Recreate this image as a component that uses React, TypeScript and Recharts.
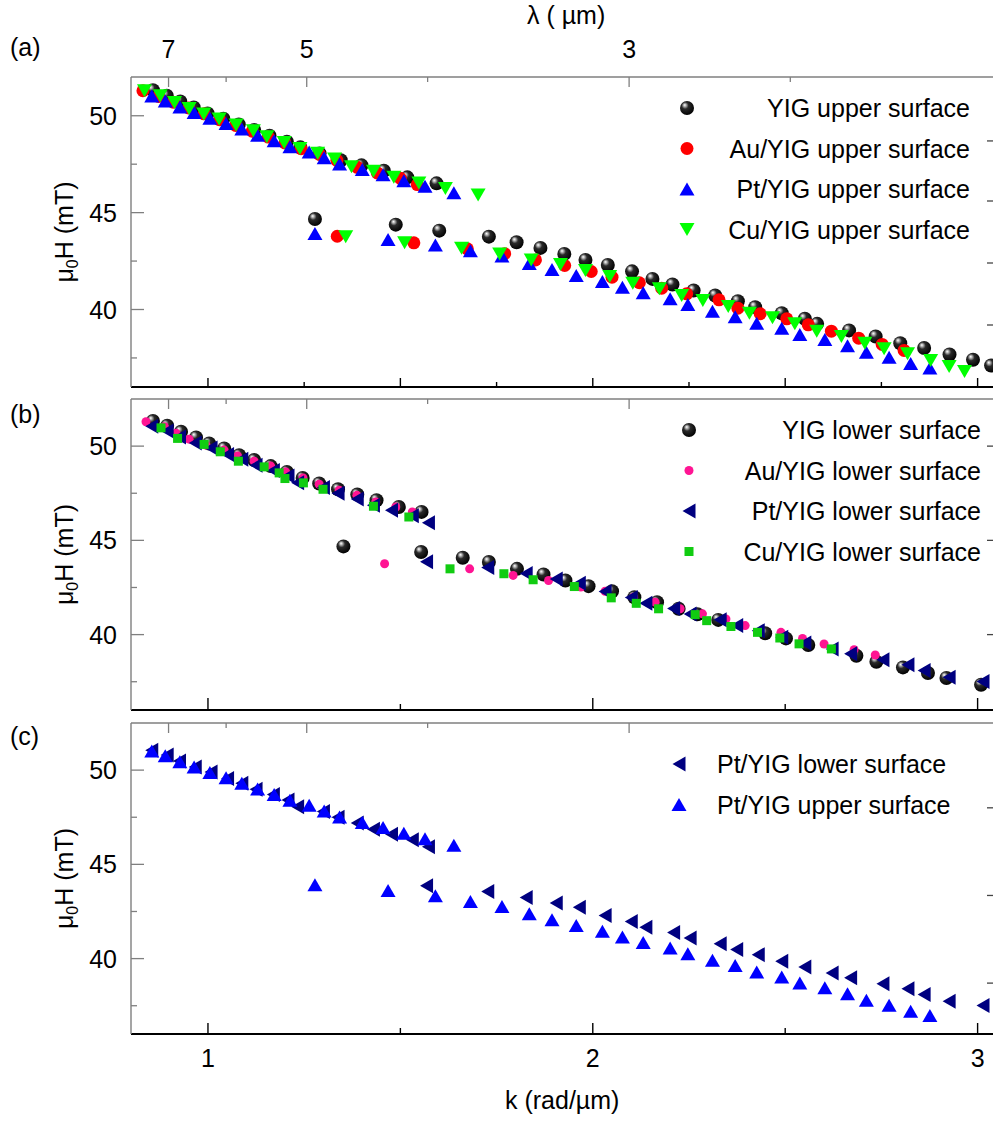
import { ScatterChart, Scatter, XAxis, YAxis } from "recharts";

const FONT = "'Liberation Sans', Arial, Helvetica, sans-serif";

// (a) upper surface — k in rad/µm, μ0H in mT
const yigUpperK = [0.857, 0.893, 0.928, 0.963, 0.999, 1.04, 1.08, 1.12, 1.16, 1.205, 1.24, 1.29, 1.345, 1.399, 1.457, 1.518, 1.594,
  1.278, 1.488, 1.601, 1.73, 1.802, 1.864, 1.926, 1.981, 2.039, 2.102, 2.155, 2.207, 2.262, 2.318, 2.377, 2.422, 2.491, 2.551, 2.583, 2.666, 2.735, 2.799, 2.861, 2.927, 2.988, 3.035];
const yigUpperH = [51.32, 51.03, 50.74, 50.43, 50.12, 49.85, 49.55, 49.27, 48.97, 48.66, 48.37, 48.05, 47.7, 47.44, 47.16, 46.82, 46.51,
  44.67, 44.38, 44.07, 43.76, 43.47, 43.18, 42.87, 42.56, 42.3, 41.97, 41.58, 41.29, 40.98, 40.72, 40.43, 40.12, 39.81, 39.52, 39.26, 38.92, 38.61, 38.26, 38.01, 37.68, 37.41, 37.11];

const auUpperK = [0.831, 0.872, 0.91, 0.95, 0.99, 1.03, 1.072, 1.115, 1.157, 1.2, 1.242, 1.29, 1.335, 1.388, 1.44, 1.5, 1.544,
  1.336, 1.535, 1.674, 1.771, 1.851, 1.927, 1.996, 2.05, 2.121, 2.179, 2.244, 2.328, 2.377, 2.435, 2.504, 2.56, 2.62, 2.691, 2.752, 2.809];
const auUpperH = [51.29, 51.0, 50.7, 50.4, 50.1, 49.8, 49.5, 49.2, 48.9, 48.6, 48.3, 48.0, 47.7, 47.34, 47.05, 46.77, 46.45,
  43.78, 43.44, 43.13, 42.88, 42.56, 42.27, 41.96, 41.67, 41.38, 41.1, 40.81, 40.5, 40.07, 39.78, 39.52, 39.21, 38.88, 38.52, 38.2, 37.89];

const ptUpperK = [0.854, 0.889, 0.927, 0.964, 1.005, 1.047, 1.088, 1.129, 1.172, 1.213, 1.263, 1.302, 1.342, 1.401, 1.455, 1.509, 1.564, 1.639,
  1.278, 1.468, 1.591, 1.682, 1.764, 1.835, 1.894, 1.957, 2.025, 2.077, 2.131, 2.201, 2.247, 2.311, 2.37, 2.426, 2.491, 2.538, 2.603, 2.662, 2.711, 2.77, 2.826, 2.876];
const ptUpperH = [51.02, 50.76, 50.45, 50.17, 49.87, 49.6, 49.31, 49.0, 48.71, 48.4, 48.13, 47.83, 47.51, 47.22, 46.95, 46.65, 46.36, 46.02,
  43.92, 43.61, 43.33, 43.03, 42.76, 42.38, 42.06, 41.75, 41.45, 41.15, 40.86, 40.56, 40.26, 39.91, 39.63, 39.29, 39.03, 38.71, 38.45, 38.13, 37.79, 37.53, 37.21, 36.98];

const cuUpperK = [0.835, 0.876, 0.913, 0.951, 0.989, 1.029, 1.073, 1.118, 1.153, 1.198, 1.239, 1.285, 1.329, 1.373, 1.43, 1.483, 1.548, 1.617, 1.702,
  1.358, 1.511, 1.659, 1.758, 1.84, 1.916, 1.981, 2.044, 2.104, 2.173, 2.231, 2.286, 2.352, 2.407, 2.467, 2.525, 2.582, 2.646, 2.707, 2.757, 2.818, 2.878, 2.926, 2.966];
const cuUpperH = [51.29, 51.03, 50.69, 50.38, 50.09, 49.83, 49.52, 49.23, 48.92, 48.62, 48.31, 48.06, 47.77, 47.37, 47.13, 46.82, 46.53, 46.25, 45.91,
  43.76, 43.44, 43.16, 42.87, 42.56, 42.32, 42.01, 41.7, 41.36, 41.07, 40.72, 40.46, 40.15, 39.81, 39.57, 39.26, 38.88, 38.61, 38.26, 37.97, 37.72, 37.37, 37.06, 36.8];

// (b) lower surface
const yigLowerK = [0.857, 0.894, 0.93, 0.969, 1.003, 1.042, 1.081, 1.12, 1.163, 1.205, 1.246, 1.289, 1.338, 1.388, 1.438, 1.496, 1.555,
  1.352, 1.554, 1.662, 1.73, 1.803, 1.872, 1.929, 1.989, 2.05, 2.108, 2.167, 2.223, 2.272, 2.326, 2.448, 2.502, 2.56, 2.685, 2.737, 2.806, 2.871, 2.919, 3.009];
const yigLowerH = [51.33, 51.08, 50.76, 50.46, 50.14, 49.88, 49.52, 49.26, 48.94, 48.63, 48.31, 48.02, 47.71, 47.43, 47.13, 46.77, 46.51,
  44.68, 44.38, 44.08, 43.85, 43.49, 43.19, 42.87, 42.57, 42.3, 41.98, 41.72, 41.37, 41.08, 40.78, 40.07, 39.8, 39.45, 38.88, 38.56, 38.26, 37.96, 37.7, 37.34];

const auLowerK = [0.839, 0.887, 0.917, 0.951, 0.995, 1.042, 1.077, 1.12, 1.163, 1.202, 1.247, 1.289, 1.341, 1.387, 1.436, 1.488, 1.531,
  1.459, 1.68, 1.793, 1.885, 1.969, 2.032, 2.106, 2.162, 2.227, 2.285, 2.346, 2.396, 2.489, 2.545, 2.601, 2.679, 2.734];
const auLowerH = [51.29, 51.03, 50.68, 50.37, 50.05, 49.79, 49.48, 49.2, 48.94, 48.63, 48.31, 47.98, 47.66, 47.39, 47.04, 46.77, 46.51,
  43.76, 43.49, 43.14, 42.87, 42.52, 42.3, 41.98, 41.72, 41.37, 41.1, 40.83, 40.48, 40.12, 39.8, 39.5, 39.2, 38.92];

const ptLowerK = [0.854, 0.894, 0.926, 0.967, 1.008, 1.051, 1.088, 1.125, 1.17, 1.208, 1.233, 1.3, 1.338, 1.388, 1.43, 1.477, 1.531, 1.573,
  1.568, 1.727, 1.827, 1.905, 1.965, 2.032, 2.1, 2.138, 2.21, 2.253, 2.331, 2.374, 2.43, 2.491, 2.551, 2.622, 2.67, 2.754, 2.819, 2.861, 2.926, 3.014];
const ptLowerH = [51.06, 50.8, 50.48, 50.17, 49.9, 49.56, 49.3, 48.98, 48.71, 48.41, 48.06, 47.8, 47.5, 47.2, 46.86, 46.6, 46.3, 45.94,
  43.86, 43.56, 43.24, 42.95, 42.72, 42.29, 41.97, 41.67, 41.39, 41.09, 40.79, 40.48, 40.21, 39.86, 39.56, 39.24, 38.98, 38.66, 38.4, 38.1, 37.74, 37.51];

const cuLowerK = [0.878, 0.921, 0.99, 1.032, 1.079, 1.146, 1.185, 1.2, 1.248, 1.299, 1.43, 1.522,
  1.629, 1.769, 1.845, 1.952, 2.048, 2.113, 2.171, 2.266, 2.296, 2.359, 2.428, 2.486, 2.536, 2.62];
const cuLowerH = [50.97, 50.41, 50.09, 49.7, 49.2, 48.9, 48.58, 48.28, 48.05, 47.71, 46.81, 46.24,
  43.49, 43.23, 42.91, 42.55, 41.95, 41.66, 41.37, 41.06, 40.74, 40.43, 40.12, 39.82, 39.51, 39.24];

// axis ticks
const lambdaMajor = [7, 5, 3];
const lambdaMinorA = [6, 4, 2.5];
const lambdaMinorBC = [6, 4];
const hTicks = [37.5, 40, 42.5, 45, 47.5, 50];
const kTicksA = [1, 1.25, 1.5, 1.75, 2, 2.25, 2.5, 2.75, 3];
const kTicksBC = [1, 1.5, 2, 2.5, 3];
const rightTicksA = [48.7, 45.6, 42.4, 39.2];
const rightTicksB = [50, 45, 40];
const rightTicksC = [48, 43.35, 38.7];

const K_DOMAIN: [number, number] = [0.8, 3.04];

type Pt = { k: number; h: number };
const toPoints = (k: number[], h: number[]): Pt[] => k.map((v, i) => ({ k: v, h: h[i] }));

// marker shapes
const sphere = (p: any) => <circle cx={p.cx} cy={p.cy} r={7} fill="url(#yigSphere)" />;
const dot = (color: string, r: number) => (p: any) => <circle cx={p.cx} cy={p.cy} r={r} fill={color} />;
const triUp = (color: string) => (p: any) => (
  <polygon points={`${p.cx - 7.5},${p.cy + 6.5} ${p.cx + 7.5},${p.cy + 6.5} ${p.cx},${p.cy - 6.5}`} fill={color} />
);
const triDown = (color: string) => (p: any) => (
  <polygon points={`${p.cx - 7.5},${p.cy - 6.5} ${p.cx + 7.5},${p.cy - 6.5} ${p.cx},${p.cy + 6.5}`} fill={color} />
);
const triLeft = (color: string) => (p: any) => (
  <polygon points={`${p.cx + 6.5},${p.cy - 7.5} ${p.cx + 6.5},${p.cy + 7.5} ${p.cx - 6.5},${p.cy}`} fill={color} />
);
const square = (color: string) => (p: any) => (
  <rect x={p.cx - 4.5} y={p.cy - 4.5} width={9} height={9} fill={color} />
);

const BLUE = "#0000ff";
const NAVY = "#000080";
const RED = "#ff0000";
const GREEN = "#00ff00";
const PINK = "#ff1493";
const CU_LOWER = "#11cc11";
const GRAY = "#7f7f7f";

type Series = { name: string; data: Pt[]; shape: (p: any) => JSX.Element };

const seriesA: Series[] = [
  { name: "YIG upper surface", data: toPoints(yigUpperK, yigUpperH), shape: sphere },
  { name: "Au/YIG upper surface", data: toPoints(auUpperK, auUpperH), shape: dot(RED, 6.5) },
  { name: "Pt/YIG upper surface", data: toPoints(ptUpperK, ptUpperH), shape: triUp(BLUE) },
  { name: "Cu/YIG upper surface", data: toPoints(cuUpperK, cuUpperH), shape: triDown(GREEN) },
];
const seriesB: Series[] = [
  { name: "YIG lower surface", data: toPoints(yigLowerK, yigLowerH), shape: sphere },
  { name: "Au/YIG lower surface", data: toPoints(auLowerK, auLowerH), shape: dot(PINK, 4.5) },
  { name: "Pt/YIG lower surface", data: toPoints(ptLowerK, ptLowerH), shape: triLeft(NAVY) },
  { name: "Cu/YIG lower surface", data: toPoints(cuLowerK, cuLowerH), shape: square(CU_LOWER) },
];
const seriesC: Series[] = [
  { name: "Pt/YIG lower surface", data: toPoints(ptLowerK, ptLowerH), shape: triLeft(NAVY) },
  { name: "Pt/YIG upper surface", data: toPoints(ptUpperK, ptUpperH), shape: triUp(BLUE) },
];

const textStyle = { fontSize: 25, fontFamily: FONT, fill: "#000" };

// tick renderers: ticks point into the plot, labels sit outside
const leftTick = (p: any) => {
  const v = p.payload.value;
  const major = v % 5 === 0;
  return (
    <g>
      <line x1={p.x} x2={p.x + (major ? 13 : 6)} y1={p.y} y2={p.y} stroke={GRAY} strokeWidth={1.3} />
      {major && (
        <text x={p.x - 14} y={p.y + 9} textAnchor="end" {...textStyle}>
          {v}
        </text>
      )}
    </g>
  );
};

const bottomTick = (step: number, majorLen: number, minorLen: number, labels: boolean) => (p: any) => {
  const v = p.payload.value;
  const major = Math.abs(v / step - Math.round(v / step)) < 1e-6;
  return (
    <g>
      <line x1={p.x} x2={p.x} y1={p.y} y2={p.y - (major ? majorLen : minorLen)} stroke="#000" strokeWidth={1.4} />
      {labels && Number.isInteger(v) && (
        <text x={p.x} y={p.y + 33} textAnchor="middle" {...textStyle}>
          {v}
        </text>
      )}
    </g>
  );
};

const topTick = (labels: boolean) => (p: any) => {
  const lam = Math.round(((2 * Math.PI) / p.payload.value) * 10) / 10;
  const major = lambdaMajor.includes(lam);
  return (
    <g>
      <line x1={p.x} x2={p.x} y1={p.y} y2={p.y + (major ? 10 : 5)} stroke={GRAY} strokeWidth={1.3} />
      {labels && major && (
        <text x={p.x} y={p.y - 19} textAnchor="middle" {...textStyle}>
          {lam}
        </text>
      )}
    </g>
  );
};

const rightTick = (p: any) => (
  <line x1={p.x} x2={p.x - 6} y1={p.y} y2={p.y} stroke="#444" strokeWidth={1.3} />
);

type PanelProps = {
  height: number;
  top: number;
  bottom: number;
  yDomain: [number, number];
  series: Series[];
  kTicks: number[];
  kStep: number;
  kMajorLen: number;
  kMinorLen: number;
  kLabels: boolean;
  lambdaTicks: number[];
  lambdaLabels: boolean;
  rightTicks: number[];
};

// Axes are 1px thick so they still render; margins are reduced by that pixel.
function Panel(props: PanelProps) {
  const { height, top, bottom, yDomain, series, kTicks, kStep, kMajorLen, kMinorLen, kLabels, lambdaTicks, lambdaLabels, rightTicks } = props;
  return (
    <ScatterChart width={994} height={height} margin={{ top: top - 1, right: 0, bottom: bottom - 1, left: 130 }}>
      <XAxis
        xAxisId="b"
        dataKey="k"
        type="number"
        domain={K_DOMAIN}
        allowDataOverflow
        ticks={kTicks}
        interval={0}
        height={1}
        tickSize={0}
        tickMargin={0}
        tickLine={false}
        axisLine={{ stroke: "#000", strokeWidth: 2 }}
        tick={bottomTick(kStep, kMajorLen, kMinorLen, kLabels)}
      />
      <XAxis
        xAxisId="t"
        orientation="top"
        dataKey="k"
        type="number"
        domain={K_DOMAIN}
        allowDataOverflow
        ticks={lambdaTicks.map((l) => (2 * Math.PI) / l)}
        interval={0}
        height={1}
        tickSize={0}
        tickMargin={0}
        tickLine={false}
        axisLine={{ stroke: GRAY, strokeWidth: 1.4 }}
        tick={topTick(lambdaLabels)}
      />
      <YAxis
        yAxisId="l"
        dataKey="h"
        type="number"
        domain={yDomain}
        allowDataOverflow
        ticks={hTicks}
        interval={0}
        width={1}
        tickSize={0}
        tickMargin={0}
        tickLine={false}
        axisLine={{ stroke: GRAY, strokeWidth: 1.4 }}
        tick={leftTick}
      />
      <YAxis
        yAxisId="r"
        orientation="right"
        dataKey="h"
        type="number"
        domain={yDomain}
        allowDataOverflow
        ticks={rightTicks}
        interval={0}
        width={1}
        tickSize={0}
        tickMargin={0}
        tickLine={false}
        axisLine={false}
        tick={rightTick}
      />
      {series.map((s) => (
        <Scatter
          key={s.name}
          name={s.name}
          data={s.data}
          xAxisId="b"
          yAxisId="l"
          shape={s.shape}
          isAnimationActive={false}
        />
      ))}
    </ScatterChart>
  );
}

function LegendRows({ series, x, y0, textX, anchor }: { series: Series[]; x: number; y0: number; textX: number; anchor: "start" | "end" }) {
  return (
    <g>
      {series.map((s, i) => {
        const cy = y0 + i * 40.5;
        return (
          <g key={s.name}>
            {s.shape({ cx: x, cy })}
            <text x={textX} y={cy + 9} textAnchor={anchor} {...textStyle}>
              {s.name}
            </text>
          </g>
        );
      })}
    </g>
  );
}

function AxisTitle({ cy }: { cy: number }) {
  return (
    <text transform={`translate(73, ${cy}) rotate(-90)`} textAnchor="middle" {...textStyle}>
      μ<tspan dy={5} fontSize={16}>0</tspan>
      <tspan dy={-5}>H (mT)</tspan>
    </text>
  );
}

export default function App() {
  return (
    <div style={{ position: "absolute", left: 0, top: 0, width: 993, height: 1121, background: "#fff", overflow: "hidden" }}>
      <svg width={0} height={0} style={{ position: "absolute" }}>
        <defs>
          <radialGradient id="yigSphere" cx="0.42" cy="0.4" r="0.62" fx="0.33" fy="0.28">
            <stop offset="0" stopColor="#ffffff" />
            <stop offset="0.14" stopColor="#bdbdbd" />
            <stop offset="0.4" stopColor="#2a2a2a" />
            <stop offset="1" stopColor="#000000" />
          </radialGradient>
        </defs>
      </svg>

      <div style={{ position: "absolute", left: 0, top: 0 }}>
        <Panel
          height={393}
          top={77}
          bottom={6}
          yDomain={[36, 52]}
          series={seriesA}
          kTicks={kTicksA}
          kStep={0.5}
          kMajorLen={9}
          kMinorLen={5}
          kLabels={false}
          lambdaTicks={[...lambdaMajor, ...lambdaMinorA]}
          lambdaLabels={true}
          rightTicks={rightTicksA}
        />
      </div>
      <div style={{ position: "absolute", left: 0, top: 393 }}>
        <Panel
          height={324}
          top={6}
          bottom={7}
          yDomain={[36, 52.5]}
          series={seriesB}
          kTicks={kTicksBC}
          kStep={1}
          kMajorLen={12}
          kMinorLen={6}
          kLabels={false}
          lambdaTicks={[...lambdaMajor, ...lambdaMinorBC]}
          lambdaLabels={false}
          rightTicks={rightTicksB}
        />
      </div>
      <div style={{ position: "absolute", left: 0, top: 717 }}>
        <Panel
          height={404}
          top={6}
          bottom={87}
          yDomain={[36, 52.5]}
          series={seriesC}
          kTicks={kTicksBC}
          kStep={1}
          kMajorLen={11}
          kMinorLen={6}
          kLabels={true}
          lambdaTicks={[...lambdaMajor, ...lambdaMinorBC]}
          lambdaLabels={false}
          rightTicks={rightTicksC}
        />
      </div>

      <svg width={993} height={1121} style={{ position: "absolute", left: 0, top: 0, pointerEvents: "none" }}>
        <text x={10} y={56} {...textStyle}>(a)</text>
        <text x={10} y={423} {...textStyle}>(b)</text>
        <text x={10} y={745} {...textStyle}>(c)</text>
        <text x={527} y={24} {...textStyle}>λ ( µm)</text>
        <text x={505} y={1109} {...textStyle}>k (rad/µm)</text>
        <AxisTitle cy={232} />
        <AxisTitle cy={554.5} />
        <AxisTitle cy={878.5} />
        <LegendRows series={seriesA} x={687} y0={108} textX={970} anchor="end" />
        <LegendRows series={seriesB} x={689} y0={430} textX={981} anchor="end" />
        <LegendRows series={seriesC} x={679} y0={764} textX={717} anchor="start" />
      </svg>
    </div>
  );
}
